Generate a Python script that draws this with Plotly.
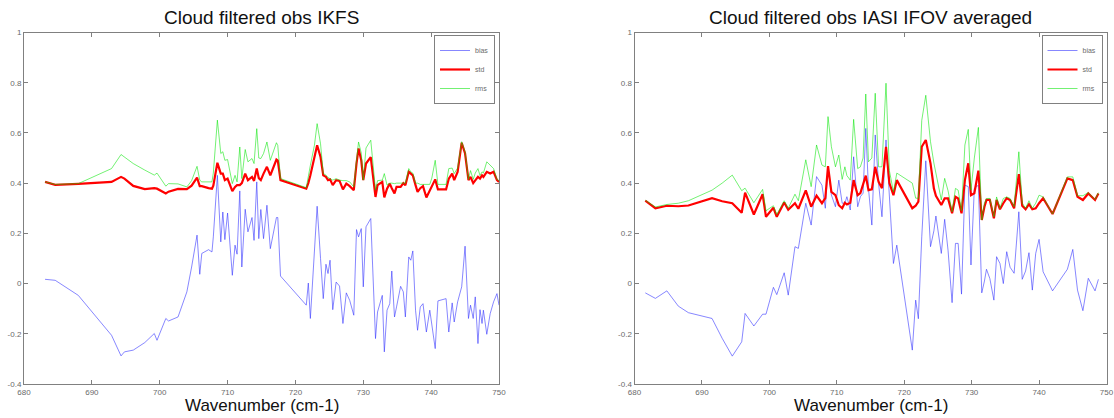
import plotly.graph_objects as go

# ---------------- data: left panel (IKFS) ----------------
wn_ikfs = [683.1, 684.6, 688.0, 692.9, 694.3, 694.8, 696.1, 697.8, 699.2, 699.6,
           700.9, 701.3, 702.7, 704.0, 704.7, 705.5, 705.9, 706.2, 707.2, 707.7,
           707.9, 708.5, 709.0, 709.3, 709.6, 710.0, 710.7, 711.1, 711.4, 711.8,
           712.1, 712.6, 713.0, 713.6, 713.9, 714.3, 714.6, 714.9, 715.3, 715.8,
           716.3, 717.2, 717.4, 717.8, 721.6, 721.9, 722.2, 722.8, 723.2, 723.7,
           724.1, 724.5, 724.8, 725.1, 725.5, 726.0, 726.5, 727.0, 727.5, 728.0,
           728.6, 729.0, 729.3, 729.7, 730.0, 730.4, 731.1, 731.8, 732.1, 732.8,
           733.1, 733.5, 733.9, 734.2, 734.6, 734.9, 735.5, 735.9, 736.2, 736.7,
           737.0, 737.3, 737.7, 738.0, 738.4, 738.8, 739.3, 739.8, 740.1, 740.6,
           741.0, 742.2, 742.6, 743.1, 743.4, 743.9, 744.5, 745.0, 745.5, 745.8,
           746.2, 746.5, 746.9, 747.2, 747.5, 747.7, 748.2, 748.7, 749.2, 749.7,
           750.0]
bias_ikfs = [0.017, 0.013, -0.047, -0.206, -0.288, -0.272, -0.265, -0.235, -0.199, -0.226,
             -0.139, -0.149, -0.133, -0.033, 0.066, 0.193, 0.037, 0.120, 0.135, 0.126,
             0.186, 0.431, 0.166, 0.285, 0.175, 0.281, 0.033, 0.153, 0.117, 0.369,
             0.066, 0.296, 0.206, 0.263, 0.172, 0.405, 0.179, 0.295, 0.179, 0.312,
             0.139, 0.263, 0.263, 0.030, -0.086, 0.002, -0.139, 0.120, 0.308, 0.100,
             -0.060, 0.077, 0.040, 0.093, -0.104, 0.006, -0.010, -0.159, -0.037, -0.067,
             -0.126, 0.215, 0.186, 0.219, -0.013, 0.226, 0.259, -0.219, -0.113, -0.047,
             -0.272, -0.106, -0.080, 0.050, -0.133, -0.093, -0.011, -0.033, -0.133, 0.106,
             0.093, 0.130, -0.106, -0.186, -0.093, -0.080, -0.193, -0.106, -0.159, -0.259,
             -0.069, -0.060, -0.193, -0.077, -0.153, -0.073, -0.013, 0.149, -0.139, -0.086,
             -0.139, -0.053, -0.239, -0.104, -0.159, -0.106, -0.202, -0.120, -0.073, -0.040,
             -0.086]
std_ikfs = [0.405, 0.393, 0.397, 0.405, 0.425, 0.418, 0.389, 0.376, 0.380, 0.378,
            0.359, 0.366, 0.377, 0.376, 0.390, 0.422, 0.388, 0.388, 0.380, 0.378,
            0.390, 0.481, 0.438, 0.438, 0.412, 0.418, 0.368, 0.385, 0.392, 0.392,
            0.400, 0.438, 0.412, 0.425, 0.409, 0.458, 0.420, 0.412, 0.438, 0.465,
            0.431, 0.494, 0.490, 0.412, 0.378, 0.400, 0.431, 0.504, 0.551, 0.504,
            0.431, 0.425, 0.412, 0.415, 0.392, 0.412, 0.409, 0.375, 0.398, 0.388,
            0.372, 0.478, 0.538, 0.491, 0.412, 0.478, 0.504, 0.345, 0.392, 0.405,
            0.343, 0.378, 0.398, 0.380, 0.359, 0.385, 0.385, 0.400, 0.392, 0.445,
            0.438, 0.431, 0.392, 0.365, 0.380, 0.388, 0.343, 0.372, 0.385, 0.415,
            0.375, 0.375, 0.418, 0.438, 0.412, 0.445, 0.561, 0.518, 0.412, 0.425,
            0.400, 0.412, 0.425, 0.418, 0.431, 0.425, 0.445, 0.438, 0.445, 0.412,
            0.405]
rms_ikfs = [0.405, 0.395, 0.398, 0.458, 0.514, 0.505, 0.478, 0.452, 0.432, 0.440,
            0.388, 0.398, 0.397, 0.385, 0.410, 0.467, 0.412, 0.405, 0.403, 0.405,
            0.440, 0.651, 0.518, 0.525, 0.491, 0.494, 0.398, 0.431, 0.405, 0.544,
            0.418, 0.534, 0.485, 0.498, 0.478, 0.617, 0.500, 0.498, 0.518, 0.564,
            0.491, 0.561, 0.550, 0.418, 0.382, 0.420, 0.471, 0.551, 0.637, 0.557,
            0.438, 0.432, 0.422, 0.418, 0.412, 0.418, 0.412, 0.410, 0.410, 0.405,
            0.385, 0.490, 0.564, 0.520, 0.412, 0.540, 0.571, 0.372, 0.410, 0.412,
            0.438, 0.392, 0.400, 0.400, 0.398, 0.400, 0.400, 0.400, 0.400, 0.458,
            0.445, 0.440, 0.400, 0.400, 0.395, 0.395, 0.395, 0.395, 0.420, 0.491,
            0.395, 0.395, 0.458, 0.460, 0.438, 0.460, 0.565, 0.525, 0.415, 0.450,
            0.415, 0.440, 0.458, 0.430, 0.445, 0.440, 0.485, 0.470, 0.458, 0.415,
            0.410]

# ---------------- data: right panel (IASI IFOV averaged) ----------------
wn_iasi = [681.6, 683.1, 684.8, 686.5, 688.0, 691.5, 693.0, 694.5, 695.9, 696.4,
           697.7, 699.0, 699.5, 700.6, 701.1, 702.2, 702.8, 703.8, 704.3, 705.4,
           706.2, 707.0, 707.8, 708.3, 708.7, 709.2, 709.8, 710.3, 710.8, 711.2,
           711.5, 712.0, 712.5, 713.1, 713.5, 713.9, 714.3, 714.7, 715.2, 715.7,
           716.2, 716.7, 717.3, 717.8, 718.4, 718.9, 721.2, 721.7, 722.1, 722.6,
           723.2, 723.9, 724.4, 724.7, 725.5, 726.0, 726.5, 727.1, 727.6, 728.0,
           728.5, 729.0, 729.5, 729.9, 730.4, 731.0, 731.5, 731.9, 732.2, 732.7,
           733.3, 733.7, 734.2, 734.7, 735.2, 735.7, 736.3, 737.0, 737.5, 738.0,
           738.5, 739.0, 739.5, 740.0, 740.6, 742.0, 744.2, 745.0, 745.7, 746.5,
           747.3, 748.3, 748.8]
bias_iasi = [-0.037, -0.059, -0.029, -0.090, -0.116, -0.139, -0.218, -0.289, -0.232, -0.119,
             -0.169, -0.122, -0.122, -0.015, -0.044, 0.043, -0.046, 0.147, 0.140, 0.320,
             0.233, 0.426, 0.392, 0.300, 0.465, 0.353, 0.306, 0.412, 0.320, 0.320,
             0.346, 0.293, 0.505, 0.306, 0.346, 0.360, 0.618, 0.379, 0.233, 0.592,
             0.399, 0.266, 0.572, 0.339, 0.080, 0.153, -0.265, -0.066, -0.140, 0.186,
             0.489, 0.147, 0.210, 0.269, 0.120, 0.256, 0.133, -0.076, 0.160, 0.160,
             -0.042, 0.392, 0.386, 0.074, 0.379, 0.392, -0.037, 0.010, 0.057, 0.020,
             -0.066, 0.107, 0.080, 0.000, 0.127, 0.065, 0.041, 0.286, 0.017, 0.050,
             0.123, -0.026, 0.120, 0.176, 0.047, -0.029, 0.057, 0.136, -0.026, -0.108,
             0.021, -0.029, 0.017]
std_iasi = [0.330, 0.300, 0.310, 0.308, 0.311, 0.340, 0.328, 0.320, 0.282, 0.362,
            0.275, 0.356, 0.266, 0.302, 0.266, 0.323, 0.294, 0.320, 0.298, 0.371,
            0.306, 0.350, 0.320, 0.340, 0.468, 0.365, 0.352, 0.312, 0.300, 0.322,
            0.315, 0.322, 0.412, 0.352, 0.360, 0.399, 0.430, 0.372, 0.375, 0.465,
            0.405, 0.380, 0.545, 0.400, 0.352, 0.412, 0.300, 0.310, 0.326, 0.545,
            0.572, 0.479, 0.379, 0.350, 0.313, 0.339, 0.339, 0.280, 0.346, 0.339,
            0.280, 0.412, 0.479, 0.352, 0.360, 0.450, 0.253, 0.306, 0.333, 0.333,
            0.260, 0.333, 0.296, 0.320, 0.340, 0.333, 0.300, 0.436, 0.310, 0.296,
            0.316, 0.296, 0.300, 0.320, 0.340, 0.277, 0.419, 0.412, 0.346, 0.333,
            0.359, 0.333, 0.359]
rms_iasi = [0.332, 0.305, 0.315, 0.320, 0.330, 0.372, 0.400, 0.432, 0.370, 0.380,
            0.322, 0.375, 0.290, 0.310, 0.275, 0.330, 0.300, 0.356, 0.330, 0.493,
            0.386, 0.552, 0.472, 0.465, 0.665, 0.545, 0.465, 0.512, 0.415, 0.465,
            0.430, 0.412, 0.654, 0.458, 0.465, 0.500, 0.755, 0.485, 0.500, 0.758,
            0.465, 0.465, 0.798, 0.450, 0.365, 0.440, 0.400, 0.340, 0.340, 0.650,
            0.750, 0.565, 0.480, 0.440, 0.333, 0.419, 0.370, 0.286, 0.379, 0.372,
            0.290, 0.552, 0.614, 0.372, 0.500, 0.622, 0.253, 0.320, 0.339, 0.339,
            0.266, 0.345, 0.300, 0.339, 0.345, 0.339, 0.306, 0.525, 0.320, 0.300,
            0.330, 0.300, 0.320, 0.352, 0.345, 0.277, 0.425, 0.425, 0.350, 0.350,
            0.362, 0.335, 0.362]

titles = ["Cloud filtered obs IKFS", "Cloud filtered obs IASI IFOV averaged"]
x_label = "Wavenumber (cm-1)"
series_names = ["bias", "std", "rms"]
x_ticks = [680, 690, 700, 710, 720, 730, 740, 750]
y_ticks = [-0.4, -0.2, 0, 0.2, 0.4, 0.6, 0.8, 1]
y_tick_text = ["-0.4", "-0.2", "0", "0.2", "0.4", "0.6", "0.8", "1"]

# ---------------- figure ----------------
W, H = 1114, 418
FONT = "Liberation Sans, Arial, Helvetica, sans-serif"
styles = {
    "bias": dict(color="rgba(50,50,255,0.65)", width=0.9),
    "std": dict(color="#ff0000", width=2.2),
    "rms": dict(color="rgba(0,230,0,0.55)", width=1.0),
}

x_domains = [[24 / W, 499 / W], [634.5 / W, 1106.5 / W]]
y_domain = [1 - 384 / H, 1 - 32.5 / H]

fig = go.Figure()
panels = [
    (wn_ikfs, [bias_ikfs, std_ikfs, rms_ikfs], "x", "y", "legend"),
    (wn_iasi, [bias_iasi, std_iasi, rms_iasi], "x2", "y2", "legend2"),
]
for wn, vals, xa, ya, lg in panels:
    for name, v in zip(series_names, vals):
        fig.add_trace(go.Scatter(
            x=wn, y=v, mode="lines", name=name, line=styles[name],
            xaxis=xa, yaxis=ya, legend=lg, showlegend=True,
            hoverinfo="x+y+name",
        ))

axis_common = dict(
    showgrid=False, zeroline=False, showline=True, mirror="ticks",
    linecolor="#808080", linewidth=1, ticks="inside", ticklen=4,
    tickcolor="#808080", tickwidth=1,
    tickfont=dict(family=FONT, size=8, color="#6a6a6a"),
    ticklabeloverflow="allow",
)
for i in range(2):
    sx = "" if i == 0 else "2"
    fig.update_layout(**{
        f"xaxis{sx}": dict(axis_common, domain=x_domains[i], range=[680, 750],
                           tickmode="array", tickvals=x_ticks,
                           ticktext=[str(t) for t in x_ticks],
                           anchor=f"y{sx}", automargin=False),
        f"yaxis{sx}": dict(axis_common, domain=y_domain, range=[-0.4, 1],
                           tickmode="array", tickvals=y_ticks, ticktext=y_tick_text,
                           anchor=f"x{sx}", automargin=False),
    })

annotations = []
for i in range(2):
    xc = (x_domains[i][0] + x_domains[i][1]) / 2
    annotations.append(dict(text=titles[i], x=xc, y=1 - 17 / H, xref="paper", yref="paper",
                            xanchor="center", yanchor="middle", showarrow=False,
                            font=dict(family=FONT, size=19, color="#111111")))
    annotations.append(dict(text=x_label, x=xc, y=1 - 405 / H, xref="paper", yref="paper",
                            xanchor="center", yanchor="middle", showarrow=False,
                            font=dict(family=FONT, size=17, color="#111111")))

legend_common = dict(
    xanchor="right", yanchor="top", bgcolor="white", bordercolor="#808080",
    borderwidth=1, font=dict(family=FONT, size=7, color="#6a6a6a"),
    tracegroupgap=0, itemwidth=30,
)
fig.update_layout(
    width=W, height=H,
    margin=dict(l=0, r=0, t=0, b=0),
    paper_bgcolor="white", plot_bgcolor="white",
    showlegend=True,
    legend=dict(legend_common, x=(499 - 4) / W, y=1 - 35 / H),
    legend2=dict(legend_common, x=(1106.5 - 4) / W, y=1 - 35 / H),
    annotations=annotations,
    font=dict(family=FONT),
)

fig.write_html("out.html", config={"displayModeBar": False},
               post_script="document.body.style.margin='0';")
